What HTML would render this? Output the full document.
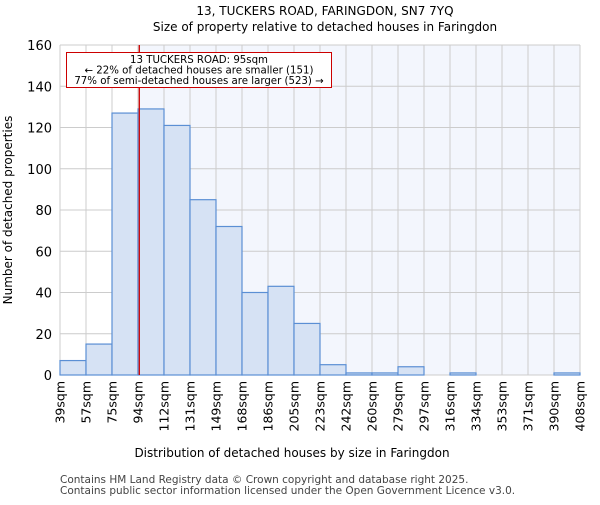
<!DOCTYPE html>
<html><head><meta charset="utf-8"><style>body{margin:0;background:#fff}svg{font-family:"DejaVu Sans","Liberation Sans",sans-serif}</style></head>
<body>
<svg id="c" width="600" height="500" xmlns="http://www.w3.org/2000/svg">
<text x="325" y="15" text-anchor="middle" font-size="12">13, TUCKERS ROAD, FARINGDON, SN7 7YQ</text>
<text x="325" y="31" text-anchor="middle" font-size="12">Size of property relative to detached houses in Faringdon</text>
<g id="plot"></g>
<text x="292" y="457" text-anchor="middle" font-size="12">Distribution of detached houses by size in Faringdon</text>
<text transform="translate(12,210) rotate(-90)" text-anchor="middle" font-size="12">Number of detached properties</text>
<text x="60" y="483" font-size="10.5" fill="#444">Contains HM Land Registry data © Crown copyright and database right 2025.</text>
<text x="60" y="494" font-size="10.5" fill="#444">Contains public sector information licensed under the Open Government Licence v3.0.</text>
</svg>
<script>
const binLabels=["39sqm","57sqm","75sqm","94sqm","112sqm","131sqm","149sqm","168sqm","186sqm","205sqm","223sqm","242sqm","260sqm","279sqm","297sqm","316sqm","334sqm","353sqm","371sqm","390sqm","408sqm"];
const counts=[7,15,127,129,121,85,72,40,43,25,5,1,1,4,0,1,0,0,0,1];
const yTicks=[0,20,40,60,80,100,120,140,160];
const propertyBin=3.05;
const L=60,R=580,T=45,B=375,yMax=160;
const n=counts.length,bw=(R-L)/n;
const xs=i=>L+i*bw;
const ys=v=>B-v/yMax*(B-T);
const NS="http://www.w3.org/2000/svg";
const g=document.getElementById('plot');
function mk(t,a){const e=document.createElementNS(NS,t);for(const k in a)e.setAttribute(k,a[k]);g.appendChild(e);return e;}
const px=xs(propertyBin);
let e=mk('rect',{x:L,y:T,width:R-L,height:B-T,fill:'#fff'});


e=mk('rect',{x:px,y:T,width:R-px,height:B-T,fill:'#f3f6fd'});


yTicks.forEach(v=>{
 const l=mk('line',{x1:L,x2:R,y1:ys(v),y2:ys(v),stroke:'#ccc'});
 
 
 const t=mk('text',{x:L-8,y:ys(v)+5,'text-anchor':'end','font-size':'13'});t.textContent=v;
 
 
});
binLabels.forEach((s,i)=>{
 const l=mk('line',{x1:xs(i),x2:xs(i),y1:T,y2:B,stroke:'#ccc'});
 
 
 const t=mk('text',{transform:`translate(${xs(i)+4.5},381) rotate(-90)`,'text-anchor':'end','font-size':'12.5'});t.textContent=s;
 
 
});
counts.forEach((v,i)=>{
 const r=mk('rect',{x:xs(i),y:ys(v),width:bw,height:B-ys(v),fill:'#d6e2f4',stroke:'#5b8fd4','stroke-width':1.2});
 
 
});
e=mk('line',{x1:px,x2:px,y1:T,y2:B,stroke:'#c00','stroke-width':1.3});


e=mk('rect',{x:66.5,y:52.5,width:265,height:35,fill:'#fff',stroke:'#c00'});


["13 TUCKERS ROAD: 95sqm","← 22% of detached houses are smaller (151)","77% of semi-detached houses are larger (523) →"].forEach((s,i)=>{
 const t=mk('text',{x:199,y:63+i*10.5,'text-anchor':'middle','font-size':'10.2'});t.textContent=s;
 
 
});
</script>
</body></html>
